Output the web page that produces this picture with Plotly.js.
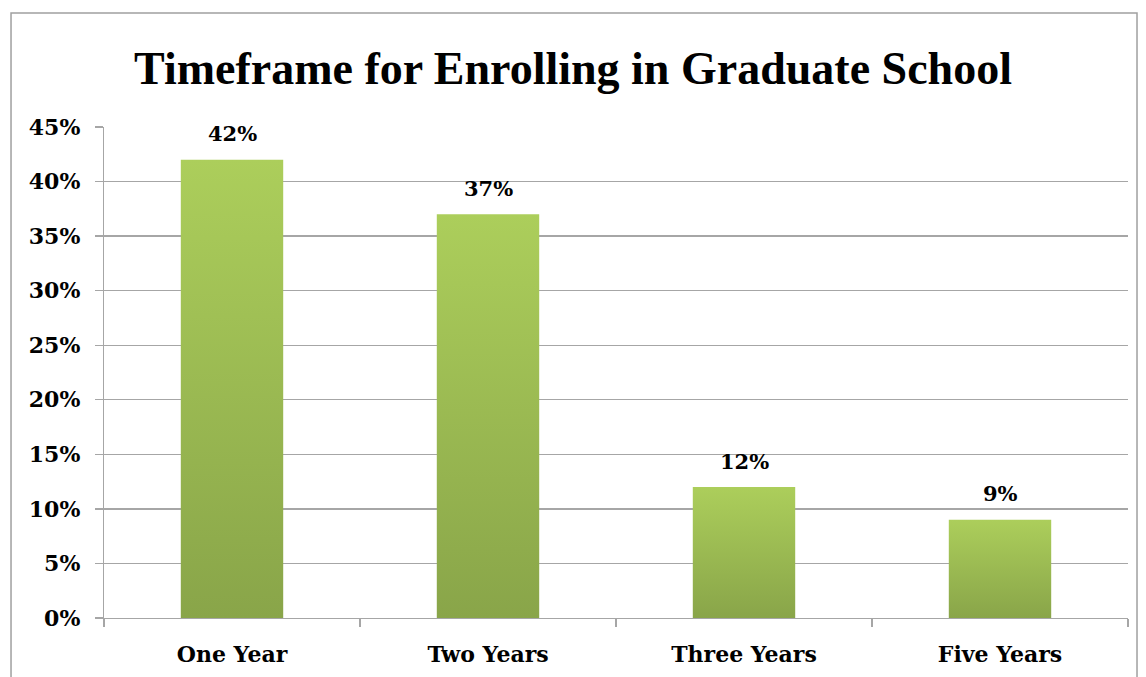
<!DOCTYPE html>
<html>
<head>
<meta charset="utf-8">
<script src="https://cdn.plot.ly/plotly-3.0.1.min.js"></script>
<style>html,body{margin:0;padding:0;background:#fff;}#chart{width:1146px;height:677px;}</style>
</head>
<body>
<div id="chart"></div>
<script>
const categories = ["One Year", "Two Years", "Three Years", "Five Years"];
const values = [42, 37, 12, 9];
const yTickVals = [0, 5, 10, 15, 20, 25, 30, 35, 40, 45];
const yTickText = ["0%", "5%", "10%", "15%", "20%", "25%", "30%", "35%", "40%", "45%"];
const titleText = "Timeframe for Enrolling in Graduate School";

const TITLE_FONT = "Liberation Serif, DejaVu Serif, serif";
const FONT = "DejaVu Serif, Liberation Serif, serif";
const halfWidth = 0.2;

const traces = values.map((v, i) => ({
  type: 'scatter',
  mode: 'lines',
  x: [i - halfWidth, i + halfWidth, i + halfWidth, i - halfWidth, i - halfWidth],
  y: [0, 0, v, v, 0],
  fill: 'toself',
  line: {width: 0, color: 'rgba(0,0,0,0)'},
  fillcolor: '#9bbb50',
  fillgradient: {
    type: 'vertical',
    start: 0,
    stop: v,
    colorscale: [[0, '#89a549'], [1, '#acce5b']]
  },
  hoverinfo: 'skip',
  showlegend: false
}));

const annotations = values.map((v, i) => ({
  x: i, y: v, xref: 'x', yref: 'y',
  text: '<b>' + v + '%</b>',
  showarrow: false,
  yshift: 26,
  font: {family: FONT, size: 21, color: '#000'}
}));

const boundaries = [];
for (let i = 0; i <= categories.length; i++) boundaries.push(i - 0.5);

const layout = {
  width: 1146, height: 677,
  paper_bgcolor: '#ffffff', plot_bgcolor: '#ffffff',
  margin: {l: 104, r: 18, t: 127, b: 59},
  title: {
    text: '<b>' + titleText + '</b>',
    x: 0.5, xref: 'container', xanchor: 'center',
    y: 0.9, yref: 'container', yanchor: 'middle',
    font: {family: TITLE_FONT, size: 46, color: '#000'}
  },
  xaxis: {
    type: 'linear',
    range: [-0.5, categories.length - 0.5],
    tickvals: categories.map((c, i) => i),
    ticktext: categories.map(c => '<b>' + c + '</b>'),
    ticks: '',
    showgrid: false,
    zeroline: false,
    showline: true, linecolor: '#a6a6a6', linewidth: 1.3,
    tickfont: {family: FONT, size: 22, color: '#000'},
    ticklabelstandoff: 16,
    minor: {tickvals: boundaries, ticks: 'outside', ticklen: 8, tickcolor: '#a6a6a6', tickwidth: 1.3, showgrid: false},
    fixedrange: true
  },
  yaxis: {
    range: [0, 45],
    tickvals: yTickVals,
    ticktext: yTickText.map(t => '<b>' + t + '</b>'),
    ticks: 'outside', ticklen: 8, tickcolor: '#a6a6a6', tickwidth: 1.3,
    showgrid: true, gridcolor: '#a6a6a6', gridwidth: 1.3,
    zeroline: false,
    showline: true, linecolor: '#a6a6a6', linewidth: 1.3,
    tickfont: {family: FONT, size: 22, color: '#000'},
    ticklabelstandoff: 10,
    fixedrange: true
  },
  annotations: annotations,
  shapes: [{
    type: 'rect', xref: 'paper', yref: 'paper',
    x0: -0.0908, x1: 1.0088, y0: -0.2, y1: 1.232,
    line: {color: '#a0a0a0', width: 1.5},
    fillcolor: 'rgba(0,0,0,0)',
    layer: 'below'
  }]
};

Plotly.newPlot('chart', traces, layout, {displayModeBar: false, staticPlot: true});
</script>
</body>
</html>
